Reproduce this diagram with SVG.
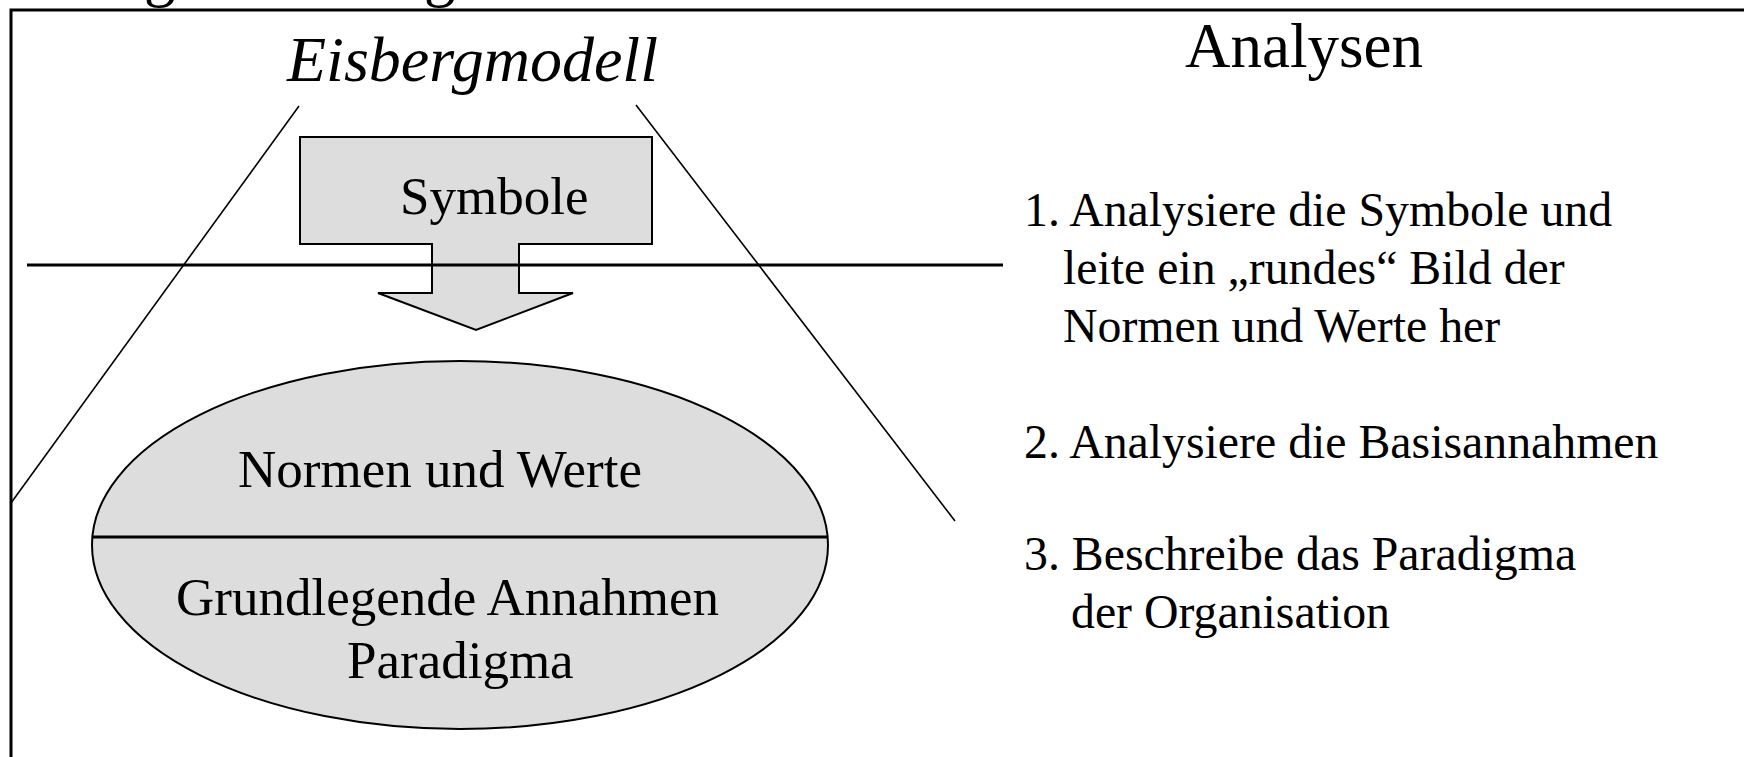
<svg xmlns="http://www.w3.org/2000/svg" width="1744" height="757" viewBox="0 0 1744 757">
  <style>
    text { font-family: "Liberation Serif", "Times New Roman", serif; fill: #000; }
    .head { font-size: 63px; }
    .ital { font-style: italic; font-size: 64px; }
    .lbl { font-size: 53px; }
    .item { font-size: 47.8px; }
    .shape { fill: #dddddd; stroke: #000; stroke-width: 2; }
    .thin { stroke: #000; stroke-width: 1.6; fill: none; }
    .thick { stroke: #000; stroke-width: 3; fill: none; }
  </style>

  <rect width="1744" height="757" fill="#fff"/>

  <!-- slide title, cut off at the top edge -->
  <g id="slide-title">
    <text class="head" x="144" y="-6">g</text>
    <text class="head" x="424" y="-6">g</text>
  </g>

  <!-- outer frame (continues past the right and bottom edges) -->
  <g id="frame">
    <path class="thick" d="M1750,10 H11 V760" stroke-width="2.5"/>
  </g>

  <g id="heading-model">
    <text class="ital" x="287" y="81">Eisbergmodell</text>
  </g>

  <!-- iceberg outline -->
  <g id="connectors">
    <line class="thin" x1="299" y1="106" x2="11" y2="503"/>
    <line class="thin" x1="636" y1="105" x2="955" y2="521"/>
  </g>

  <g id="symbole">
    <polygon class="shape" stroke-width="1.6"
      points="300,137 652,137 652,244 519,244 519,293 573,293 476,330 378,293 432,293 432,244 300,244"/>
    <text class="lbl" x="400" y="214">Symbole</text>
  </g>

  <g id="waterline">
    <line class="thick" x1="27" y1="265" x2="1003" y2="265"/>
  </g>

  <g id="core">
    <ellipse class="shape" cx="460" cy="545" rx="368" ry="184"/>
    <line class="thick" x1="92" y1="537" x2="828" y2="537"/>
    <text class="lbl" x="238" y="487">Normen und Werte</text>
    <text class="lbl" x="176" y="615">Grundlegende Annahmen</text>
    <text class="lbl" x="347" y="678">Paradigma</text>
  </g>

  <g id="analysen">
    <text class="head" x="1185" y="67">Analysen</text>
    <text class="item" x="1024" y="226">1. Analysiere die Symbole und</text>
    <text class="item" x="1063" y="284">leite ein „rundes“ Bild der</text>
    <text class="item" x="1063" y="342">Normen und Werte her</text>
    <text class="item" x="1024" y="458">2. Analysiere die Basisannahmen</text>
    <text class="item" x="1024" y="570">3. Beschreibe das Paradigma</text>
    <text class="item" x="1071" y="628">der Organisation</text>
  </g>
</svg>
